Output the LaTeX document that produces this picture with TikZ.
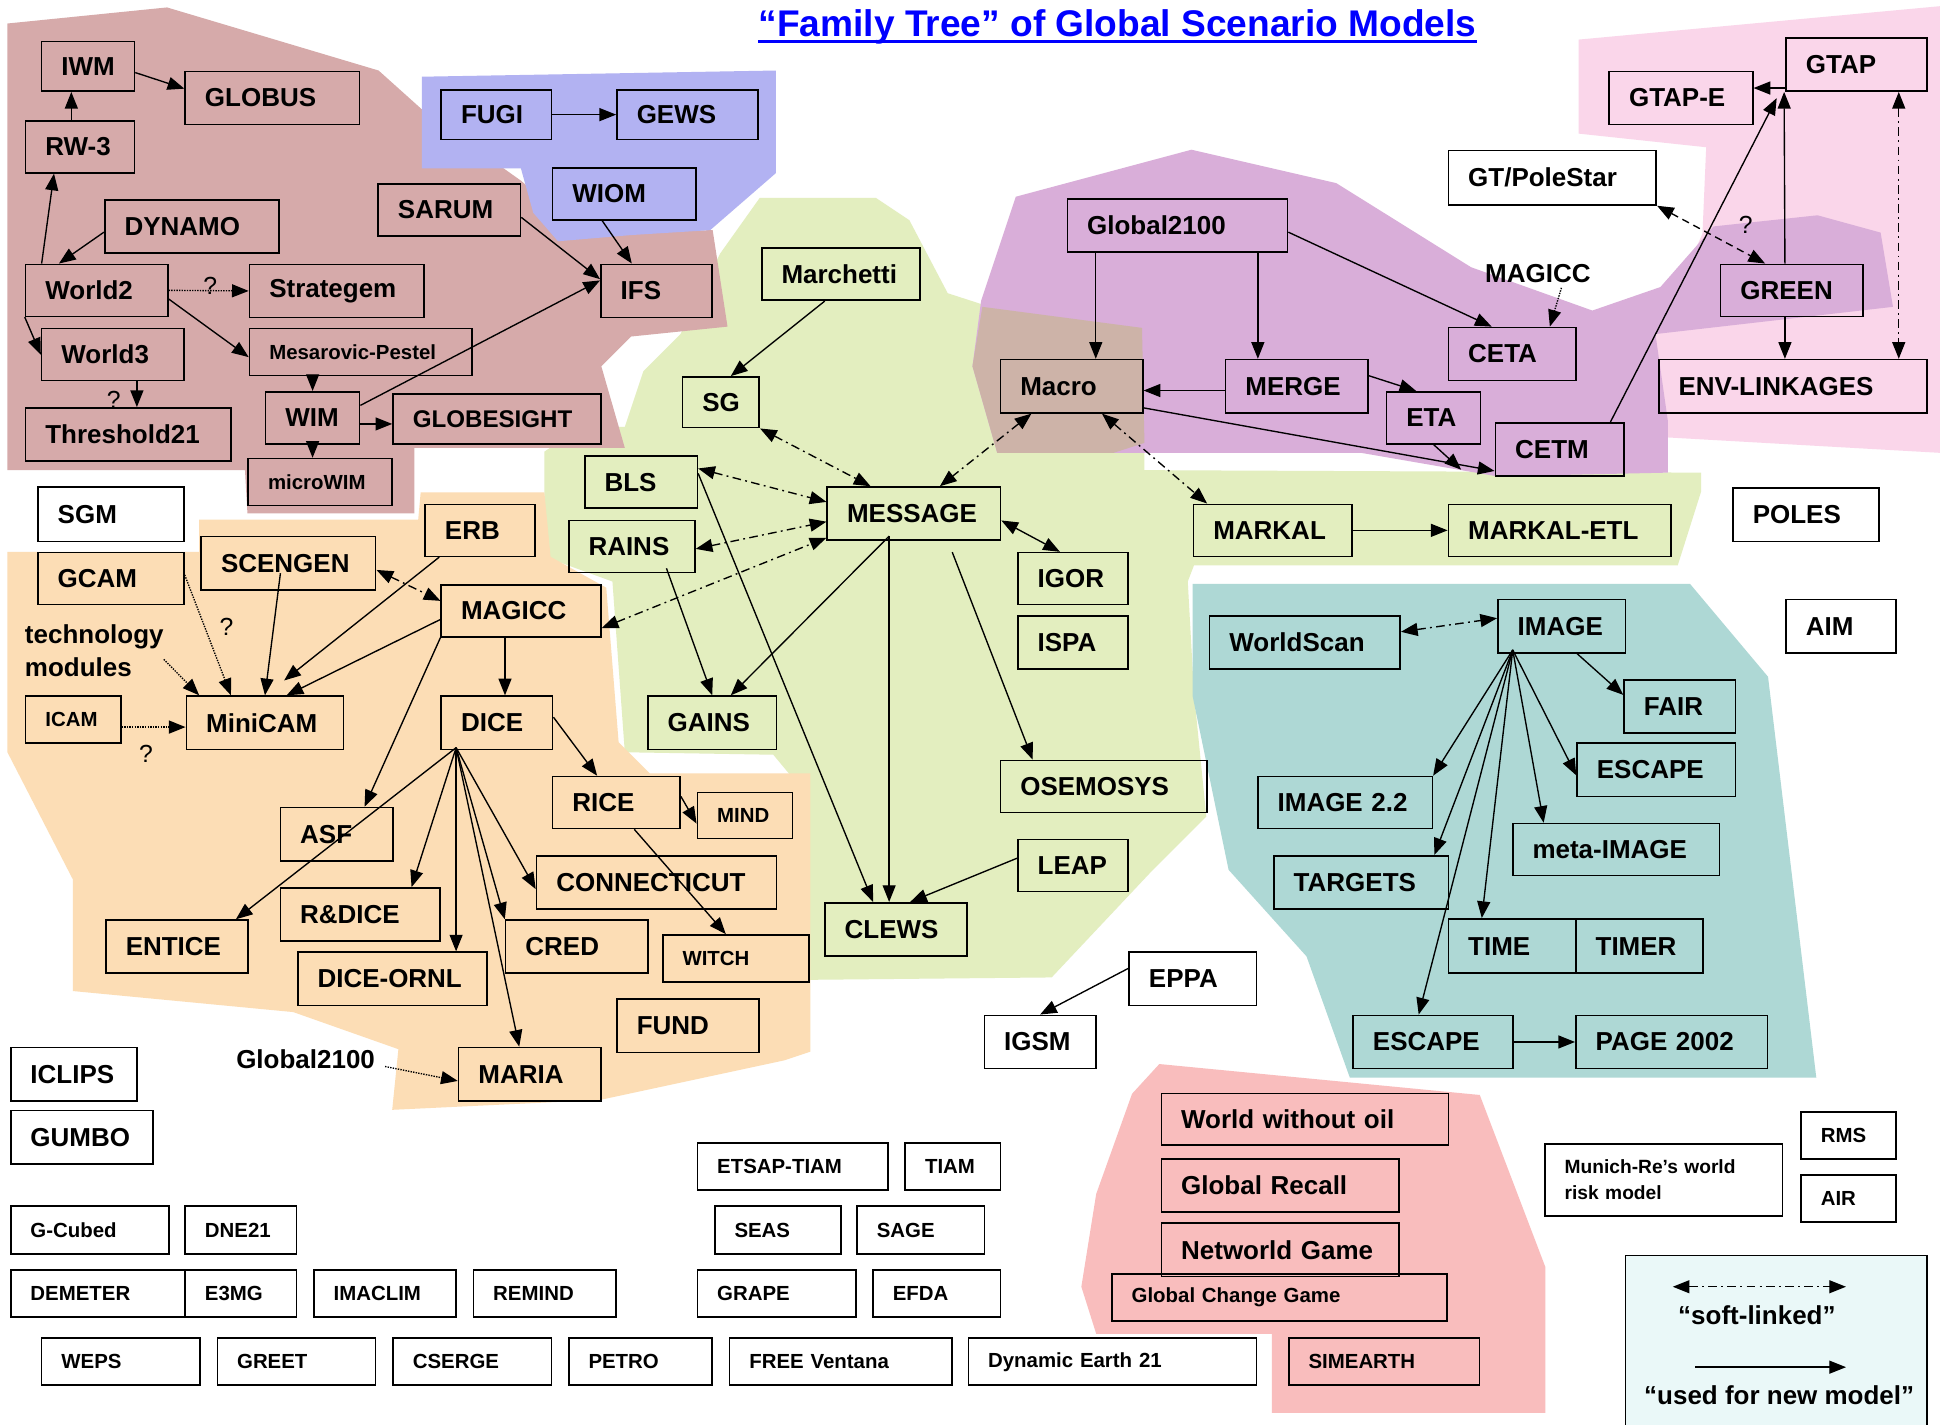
\documentclass[tikz,border=0pt]{standalone}
\usepackage{fontspec}
\setmainfont{Liberation Sans}
\usetikzlibrary{arrows.meta,calc}
\definecolor{brownF}{HTML}{D6AAAA}
\definecolor{blueF}{HTML}{B2B2F2}
\definecolor{greenF}{HTML}{E3EEBF}
\definecolor{orangeF}{HTML}{FCDDB5}
\definecolor{purpleF}{HTML}{D9AED9}
\definecolor{pinkF}{HTML}{FAD6EA}
\definecolor{macroF}{HTML}{CDB3A8}
\definecolor{tealF}{HTML}{AED8D5}
\definecolor{redF}{HTML}{F9BDBD}
\definecolor{legF}{HTML}{EAF8F8}
\definecolor{titleC}{HTML}{0000FF}
\tikzset{
  box/.style={draw, line width=1.3pt, anchor=north west, align=left, inner xsep=16pt, inner ysep=0pt,
              font=\bfseries\fontsize{21}{24}\selectfont},
  sbox/.style={box, font=\bfseries\fontsize{16.5}{19}\selectfont},
  wh/.code 2 args={\pgfmathsetlengthmacro\bxw{#1-32}\tikzset{text width/.expanded=\bxw, minimum height=#2}},
  lbl/.style={inner sep=0pt, font=\bfseries\fontsize{21}{26}\selectfont},
  qm/.style={inner sep=0pt, font=\fontsize{20}{22}\selectfont},
  newm/.style={-{Triangle[length=13.5pt,width=10.5pt]}, line width=1.1pt},
  twoway/.style={{Triangle[length=13.5pt,width=10.5pt]}-{Triangle[length=13.5pt,width=10.5pt]}, line width=1.1pt},
  soft/.style={twoway, dash pattern=on 7pt off 3.5pt on 1.5pt off 3.5pt},
  doubt/.style={twoway, dash pattern=on 6pt off 4pt},
  maybe/.style={newm, densely dotted},
}
\begin{document}
\begin{tikzpicture}[x=1pt, y=-1pt]
\useasboundingbox (0,0) rectangle (1568,1151);
\fill[white] (0,0) rectangle (1568,1151);
% coloured zones
\fill[greenF] (614,160) -- (708,160) -- (735,178) -- (766,237) -- (800,248) -- (925,265) -- (925,380) -- (1375,382)
  -- (1375,397) -- (1356,457) -- (965,457) -- (960,470) -- (965,560) -- (975,660) -- (930,705) -- (850,790) -- (648,792)
  -- (640,628) -- (625,610) -- (505,608) -- (495,470) -- (440,450) -- (440,365) -- (470,345) -- (505,345) -- (520,300)
  -- (550,270) -- (582,205) -- cycle;
\fill[brownF] (6,19) -- (135,6) -- (306,57) -- (345,92) -- (421,146) -- (470,188) -- (576,186) -- (588,264) -- (510,272)
  -- (486,296) -- (505,362) -- (335,362) -- (335,415) -- (200,415) -- (198,380) -- (6,380) -- cycle;
\fill[blueF] (341,62) -- (627,57) -- (627,140) -- (574,186) -- (510,190) -- (451,195) -- (431,172) -- (421,136) -- (341,136) -- cycle;
\fill[orangeF] (6,446) -- (161,446) -- (161,420) -- (338,420) -- (340,398) -- (440,398) -- (445,450) -- (490,475) -- (500,600)
  -- (525,625) -- (655,625) -- (655,850) -- (634,857) -- (485,889) -- (317,897) -- (322,848) -- (237,818) -- (59,801)
  -- (59,711) -- (6,608) -- cycle;
\fill[pinkF] (1276,32) -- (1568,5) -- (1568,366) -- (1338,353) -- (1338,272) -- (1376,189) -- (1379,119) -- (1276,108) -- cycle;
\fill[purpleF] (786,296) -- (793,243) -- (821,159) -- (963,121) -- (1080,148) -- (1189,216) -- (1287,251) -- (1342,232)
  -- (1385,183) -- (1469,174) -- (1520,188) -- (1530,248) -- (1338,270) -- (1348,340) -- (1348,382) -- (1210,385) -- (1100,366)
  -- (806,366) -- cycle;
\fill[macroF] (786,296) -- (794,248) -- (923,265) -- (925,358) -- (900,366) -- (806,366) -- cycle;
\fill[tealF] (964,472) -- (1366,472) -- (1429,547) -- (1468,871) -- (1091,871) -- (1056,773) -- (993,703) -- (964,563) -- cycle;
\fill[redF] (937,860) -- (1196,885) -- (1249,1024) -- (1249,1142) -- (1028,1142) -- (1028,1078) -- (886,1078) -- (874,1040)
  -- (886,965) -- (915,884) -- cycle;
% title
\node[anchor=base west, inner sep=0pt, text=titleC, font=\bfseries\fontsize{30}{32}\selectfont] (title) at (613,29.6)
  {“Family Tree” of Global Scenario Models};
\draw[titleC, line width=2.2pt] ([yshift=-3.8pt]title.base west) -- ([yshift=-3.8pt]title.base east);
% world models
\node[box, wh={75}{40}] (IWM) at (33,33) {IWM};
\node[box, wh={141}{43}] (GLOBUS) at (149,57) {GLOBUS};
\node[box, wh={88}{42}] (RW3) at (20,97) {RW-3};
\node[box, wh={141}{43}] (DYNAMO) at (84,161) {DYNAMO};
\node[box, wh={115}{42}] (World2) at (20,213) {World2};
\node[box, wh={141}{43}] (Strategem) at (201,213) {Strategem};
\node[box, wh={115}{42}] (World3) at (33,265) {World3};
\node[sbox, wh={180}{38}] (MesPes) at (201,265) {Mesarovic-Pestel};
\node[box, wh={166}{43}] (Threshold) at (20,329) {Threshold21};
\node[box, wh={76}{42}] (WIM) at (214,316) {WIM};
\node[box, wh={168}{40}, font=\bfseries\fontsize{19.5}{22}\selectfont] (GLOBESIGHT) at (317,318) {GLOBESIGHT};
\node[sbox, wh={116}{38}] (microWIM) at (200,370) {microWIM};
\node[box, wh={115}{42}] (SARUM) at (305,148) {SARUM};
\node[box, wh={90}{43}] (IFS) at (485,213) {IFS};
\node[box, wh={89}{40}] (FUGI) at (356,72) {FUGI};
\node[box, wh={114}{40}] (GEWS) at (498,72) {GEWS};
\node[box, wh={116}{42}] (WIOM) at (446,135) {WIOM};
% message family
\node[box, wh={128}{42}] (Marchetti) at (615,200) {Marchetti};
\node[box, wh={62}{41}] (SG) at (551,304) {SG};
\node[box, wh={91}{42}] (BLS) at (472,368) {BLS};
\node[box, wh={102}{42}] (RAINS) at (459,420) {RAINS};
\node[box, wh={140}{43}] (MESSAGE) at (668,393) {MESSAGE};
\node[box, wh={89}{42}] (IGOR) at (822,446) {IGOR};
\node[box, wh={89}{43}] (ISPA) at (822,497) {ISPA};
\node[box, wh={104}{43}] (GAINS) at (523,562) {GAINS};
\node[box, wh={167}{42}] (OSEMOSYS) at (808,614) {OSEMOSYS};
\node[box, wh={89}{42}] (LEAP) at (822,678) {LEAP};
\node[box, wh={115}{43}] (CLEWS) at (666,729) {CLEWS};
% global2100 family
\node[box, wh={178}{43}] (Global2100) at (862,160) {Global2100};
\node[box, wh={115}{43}] (Macro) at (808,290) {Macro};
\node[box, wh={115}{43}] (MERGE) at (990,290) {MERGE};
\node[box, wh={103}{43}] (CETA) at (1170,264) {CETA};
\node[box, wh={76}{42}] (ETA) at (1120,316) {ETA};
\node[box, wh={104}{43}] (CETM) at (1208,341) {CETM};
\node[lbl] (magicclbl) at (1243,221) {MAGICC};
\node[box, wh={114}{43}] (GTAP) at (1443,30) {GTAP};
\node[box, wh={116}{43}] (GTAPE) at (1300,57) {GTAP-E};
\node[box, wh={168}{44}] (GTPole) at (1170,121) {GT/PoleStar};
\node[box, wh={115}{42}] (GREEN) at (1390,213) {GREEN};
\node[box, wh={217}{43}] (ENVLINK) at (1340,290) {ENV-LINKAGES};
\node[box, wh={128}{42}] (MARKAL) at (964,407) {MARKAL};
\node[box, wh={180}{42}] (MARKALETL) at (1170,407) {MARKAL-ETL};
\node[box, wh={118}{43}] (POLES) at (1400,394) {POLES};
\node[box, wh={89}{43}] (AIM) at (1443,484) {AIM};
% climate family
\node[box, wh={118}{44}] (SGM) at (30,393) {SGM};
\node[box, wh={118}{42}] (GCAM) at (30,446) {GCAM};
\node[box, wh={89}{42}] (ERB) at (343,407) {ERB};
\node[box, wh={141}{43}] (SCENGEN) at (162,433) {SCENGEN};
\node[box, wh={129}{42}] (MAGICC) at (356,472) {MAGICC};
\node[lbl, anchor=north west, align=left] (tech) at (20,505) {technology\\modules};
\node[sbox, wh={77}{38}] (ICAM) at (20,562) {ICAM};
\node[box, wh={127}{43}] (MiniCAM) at (150,562) {MiniCAM};
\node[box, wh={90}{43}] (DICE) at (356,562) {DICE};
\node[box, wh={103}{42}] (RICE) at (446,627) {RICE};
\node[sbox, wh={77}{37}] (MIND) at (563,640) {MIND};
\node[box, wh={91}{43}] (ASF) at (226,652) {ASF};
\node[box, wh={194}{43}] (CONN) at (433,691) {CONNECTICUT};
\node[box, wh={129}{43}] (RDICE) at (226,717) {R\&DICE};
\node[box, wh={115}{43}] (ENTICE) at (85,743) {ENTICE};
\node[box, wh={115}{43}] (CRED) at (408,743) {CRED};
\node[sbox, wh={118}{38}] (WITCH) at (535,755) {WITCH};
\node[box, wh={153}{43}] (DICEORNL) at (240,769) {DICE-ORNL};
\node[box, wh={115}{43}] (FUND) at (498,807) {FUND};
\node[box, wh={115}{43}] (MARIA) at (370,846) {MARIA};
\node[lbl] (g2100lbl) at (247,856) {Global2100};
% image family
\node[box, wh={154}{43}] (WorldScan) at (977,497) {WorldScan};
\node[box, wh={103}{43}] (IMAGE) at (1210,484) {IMAGE};
\node[box, wh={90}{43}] (FAIR) at (1312,549) {FAIR};
\node[box, wh={128}{43}] (ESCAPEa) at (1274,600) {ESCAPE};
\node[box, wh={141}{42}] (IMAGEtt) at (1016,627) {IMAGE 2.2};
\node[box, wh={167}{42}] (metaIMAGE) at (1222,665) {meta-IMAGE};
\node[box, wh={141}{43}] (TARGETS) at (1029,691) {TARGETS};
\node[box, wh={103}{44}] (TIME) at (1170,742) {TIME};
\node[box, wh={103}{44}] (TIMER) at (1273,742) {TIMER};
\node[box, wh={129}{43}] (ESCAPEb) at (1093,820) {ESCAPE};
\node[box, wh={155}{43}] (PAGE) at (1273,820) {PAGE 2002};
% loose models
\node[box, wh={103}{43}] (EPPA) at (912,769) {EPPA};
\node[box, wh={90}{43}] (IGSM) at (795,820) {IGSM};
\node[box, wh={102}{43}] (ICLIPS) at (8,846) {ICLIPS};
\node[box, wh={115}{43}] (GUMBO) at (8,897) {GUMBO};
\node[box, wh={232}{42}] (WWO) at (938,883) {World without oil};
\node[box, wh={192}{43}] (GlobRecall) at (938,936) {Global Recall};
\node[box, wh={192}{43}] (Networld) at (938,988) {Networld Game};
\node[sbox, wh={271}{38}] (GCG) at (898,1029) {Global Change Game};
\node[sbox, wh={154}{38}] (SIMEARTH) at (1041,1081) {SIMEARTH};
\node[sbox, wh={192}{58}, font=\bfseries\fontsize{15.5}{21}\selectfont] (Munich) at (1248,924) {Munich-Re’s world\\risk model};
\node[sbox, wh={77}{38}] (RMS) at (1455,898) {RMS};
\node[sbox, wh={77}{38}] (AIR) at (1455,949) {AIR};
\node[sbox, wh={154}{38}] (ETSAP) at (563,923) {ETSAP-TIAM};
\node[sbox, wh={77}{38}] (TIAM) at (731,923) {TIAM};
\node[sbox, wh={102}{39}] (SEAS) at (577,974) {SEAS};
\node[sbox, wh={103}{39}] (SAGE) at (692,974) {SAGE};
\node[sbox, wh={128}{38}] (GRAPE) at (563,1026) {GRAPE};
\node[sbox, wh={103}{38}] (EFDA) at (705,1026) {EFDA};
\node[sbox, wh={128}{39}] (GCubed) at (8,974) {G-Cubed};
\node[sbox, wh={90}{39}] (DNE) at (149,974) {DNE21};
\node[sbox, wh={141}{38}] (DEMETER) at (8,1026) {DEMETER};
\node[sbox, wh={90}{38}] (E3MG) at (149,1026) {E3MG};
\node[sbox, wh={115}{38}] (IMACLIM) at (253,1026) {IMACLIM};
\node[sbox, wh={115}{38}] (REMIND) at (382,1026) {REMIND};
\node[sbox, wh={128}{38}] (WEPS) at (33,1081) {WEPS};
\node[sbox, wh={128}{38}] (GREET) at (175,1081) {GREET};
\node[sbox, wh={128}{38}] (CSERGE) at (317,1081) {CSERGE};
\node[sbox, wh={116}{38}] (PETRO) at (459,1081) {PETRO};
\node[sbox, wh={180}{38}] (FREE) at (589,1081) {FREE Ventana};
\node[sbox, wh={233}{38}] (DynEarth) at (782,1081) {Dynamic Earth 21};
% question marks
\node[qm] (q1) at (170,231) {?};
\node[qm] (q2) at (92,323) {?};
\node[qm] (q3) at (183,507) {?};
\node[qm] (q4) at (118,609) {?};
\node[qm] (q5) at (1411,182) {?};
% links: world models
\draw[newm] ([xshift=-7]RW3.north) -- ([xshift=-13.5]IWM.south);
\draw[newm] ([yshift=-5]IWM.east) -- ([yshift=7.5]GLOBUS.west);
\draw[newm] ([xshift=-44.5]World2.north) -- ([xshift=-21]RW3.south);
\draw[newm] ([yshift=-4.5]DYNAMO.west) -- ([xshift=-30.5]World2.north);
\draw[newm] (World2.south west) -- (World3.west);
\draw[maybe] (World2.east) -- (Strategem.west);
\draw[newm] ([yshift=-7]World2.east) -- ([yshift=-4]MesPes.west);
\draw[newm] ([xshift=19.5]World3.south) -- ([xshift=7]Threshold.north);
\draw[newm] ([xshift=-39]MesPes.south) -- (WIM.north);
\draw[newm] ([yshift=-5]WIM.east) -- ([yshift=-4]GLOBESIGHT.west);
\draw[newm] (WIM.south) -- ([xshift=-6]microWIM.north);
\draw[newm] ([yshift=10]WIM.east) -- ([yshift=8.5]IFS.west);
\draw[newm] ([yshift=-6]SARUM.east) -- ([yshift=9.5]IFS.west);
\draw[newm] ([xshift=-18]WIOM.south) -- ([xshift=-20]IFS.north);
\draw[newm] (FUGI.east) -- (GEWS.west);
% links: message
\draw[newm] ([xshift=-13]Marchetti.south) -- ([xshift=8]SG.north);
\draw[soft] (SG.south east) -- ([xshift=-35]MESSAGE.north);
\draw[soft] ([yshift=11]BLS.east) -- ([yshift=9.5]MESSAGE.west);
\draw[soft] ([yshift=-2]RAINS.east) -- ([yshift=-6.5]MESSAGE.west);
\draw[soft] ([yshift=-14]MAGICC.east) -- ([yshift=-19.5]MESSAGE.west);
\draw[soft] ([xshift=-32.5]Macro.south) -- ([xshift=21]MESSAGE.north);
\draw[soft] ([xshift=24.5]Macro.south) -- ([xshift=-53]MARKAL.north);
\draw[twoway] ([yshift=-5.5]MESSAGE.east) -- ([xshift=-10.5]IGOR.north);
\draw[newm] ([xshift=-20,yshift=4]MESSAGE.south) -- ([xshift=15]GAINS.north);
\draw[newm] ([xshift=-20,yshift=4]MESSAGE.south) -- ([xshift=-5.5]CLEWS.north);
\draw[newm] ([xshift=31,yshift=-9]MESSAGE.south) -- ([xshift=-57.5]OSEMOSYS.north);
\draw[newm] ([yshift=7]BLS.east) -- ([xshift=-18.5]CLEWS.north);
\draw[newm] ([xshift=28,yshift=4]RAINS.south) -- (GAINS.north);
\draw[newm] ([yshift=6]LEAP.west) -- ([xshift=11.5]CLEWS.north);
% links: global2100
\draw[newm] ([xshift=-66]Global2100.south) -- ([xshift=19.5]Macro.north);
\draw[newm] ([xshift=65]Global2100.south) -- ([xshift=-31.5]MERGE.north);
\draw[newm] ([yshift=-5.5]Global2100.east) -- ([xshift=-16.5]CETA.north);
\draw[maybe] ([xshift=19,yshift=-4]magicclbl.south) -- ([xshift=30.5]CETA.north);
\draw[newm] ([yshift=-3.5]MERGE.west) -- ([yshift=-3.5]Macro.east);
\draw[newm] ([yshift=8.5]MERGE.east) -- ([xshift=-14]ETA.north);
\draw[newm] ([yshift=-17.5]Macro.east) -- ([yshift=-17.5]CETM.west);
\draw[newm] (ETA.south) -- ([xshift=-27,yshift=-16.5]CETM.west);
\draw[newm] ([xshift=41]CETM.north) -- ([xshift=-7,yshift=-5]GTAP.south west);
\draw[newm] ([xshift=-5.5]GREEN.north) -- ([xshift=-1]GTAP.south west);
\draw[newm] ([yshift=-19]GTAP.west) -- ([yshift=8]GTAPE.east);
\draw[newm] ([xshift=-5.5]GREEN.south) -- ([xshift=-6.5]ENVLINK.north);
\draw[soft] ([xshift=34]GTAP.south) -- ([xshift=85.5]ENVLINK.north);
\draw[doubt] (GTPole.south east) -- ([xshift=-21.5]GREEN.north);
\draw[newm] (MARKAL.east) -- (MARKALETL.west);
% links: image
\draw[soft] ([yshift=8.5]WorldScan.east) -- ([yshift=6.5]IMAGE.west);
\draw[newm] ([xshift=12.5]IMAGE.south) -- ([yshift=9.5]FAIR.west);
\coordinate (imgfan) at ([xshift=-39.5,yshift=3]IMAGE.south);
\foreach \n/\anc/\dx in {IMAGEtt/north east/0, TARGETS/north east/-12, ESCAPEb/north/-11.5, TIME/north/-24.5, metaIMAGE/north/-58.5}
  \draw[newm] (imgfan) -- ([xshift=\dx]\n.\anc);
\draw[newm] (imgfan) -- ([yshift=-4.5]ESCAPEa.west);
\draw[newm] (ESCAPEb.east) -- (PAGE.west);
\draw[newm] ([yshift=8.5]EPPA.west) -- (IGSM.north);
% links: climate
\draw[newm] ([xshift=12]ERB.south west) -- ([xshift=15.5,yshift=12]MiniCAM.north);
\draw[newm] ([yshift=-7]MAGICC.west) -- ([xshift=17.5]MiniCAM.north);
\draw[newm] ([xshift=-6.5,yshift=14]SCENGEN.south) -- (MiniCAM.north);
\draw[soft] ([yshift=-5.5]SCENGEN.east) -- ([yshift=8]MAGICC.west);
\draw[maybe] ([yshift=3]GCAM.east) -- ([xshift=-27.5]MiniCAM.north);
\draw[maybe] ([yshift=-7]tech.east) -- ([xshift=11]MiniCAM.north west);
\draw[maybe] ([yshift=-6]ICAM.east) -- ([yshift=-3.5]MiniCAM.west);
\draw[newm] ([xshift=-13]MAGICC.south) -- ([xshift=6.5]DICE.north);
\draw[newm] (MAGICC.south west) -- ([xshift=22.5]ASF.north);
\draw[newm] ([yshift=4.5]DICE.east) -- ([xshift=-15.5]RICE.north);
\coordinate (dicefan) at ([xshift=-33,yshift=2]DICE.south);
\foreach \n/\dx in {ENTICE/47.5, RDICE/41.5, DICEORNL/51.5, MARIA/-8.5}
  \draw[newm] (dicefan) -- ([xshift=\dx]\n.north);
\draw[newm] (dicefan) -- (CRED.north west);
\draw[newm] (dicefan) -- ([yshift=-5.5]CONN.west);
\draw[newm] ([xshift=14.5]RICE.south) -- ([xshift=-8]WITCH.north);
\draw[newm] ([yshift=5]RICE.east) -- ([yshift=-6.5]MIND.west);
\draw[maybe] ([xshift=8,yshift=-6]g2100lbl.east) -- ([yshift=-5.5]MARIA.west);
% legend
\node[draw, line width=1.3pt, fill=legF, anchor=north west, minimum width=244, minimum height=150, inner sep=0pt] (legend) at (1313,1014) {};
\coordinate (lsA) at (1352,1040);
\coordinate (lsB) at (1492,1040);
\draw[soft] (lsA) -- (lsB);
\node[lbl] (lsT) at (1420,1063) {“soft-linked”};
\coordinate (luA) at (1370,1105);
\coordinate (luB) at (1492,1105);
\draw[newm] (luA) -- (luB);
\node[lbl] (luT) at (1438,1128) {“used for new model”};
\end{tikzpicture}
\end{document}
